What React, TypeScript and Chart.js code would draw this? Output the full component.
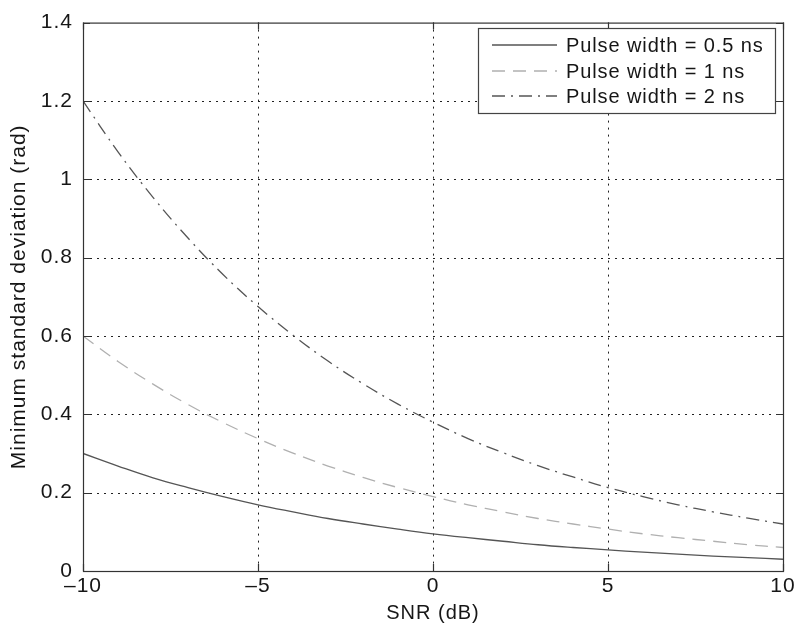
import React, { useEffect, useRef } from "react";
import { Chart, registerables } from "chart.js";

Chart.register(...registerables);

const snrDb = [-10, -9, -8, -7, -6, -5, -4, -3, -2, -1, 0, 1, 2, 3, 4, 5, 6, 7, 8, 9, 10];
const pulse05 = [0.300, 0.268, 0.238, 0.213, 0.190, 0.169, 0.151, 0.134, 0.120, 0.107, 0.095, 0.085, 0.076, 0.067, 0.060, 0.054, 0.048, 0.043, 0.038, 0.034, 0.030];
const pulse1 = [0.600, 0.535, 0.477, 0.425, 0.379, 0.338, 0.301, 0.268, 0.239, 0.213, 0.190, 0.169, 0.151, 0.134, 0.120, 0.107, 0.095, 0.085, 0.076, 0.067, 0.060];
const pulse2 = [1.200, 1.070, 0.954, 0.850, 0.757, 0.675, 0.602, 0.536, 0.478, 0.426, 0.380, 0.338, 0.302, 0.269, 0.240, 0.213, 0.190, 0.169, 0.151, 0.135, 0.120];
const seriesLabels = ["Pulse width = 0.5 ns", "Pulse width = 1 ns", "Pulse width = 2 ns"];
const xTicks = [-10, -5, 0, 5, 10];
const yTicks = [0, 0.2, 0.4, 0.6, 0.8, 1, 1.2, 1.4];

const FONT = "'Liberation Sans', Arial, Helvetica, sans-serif";
const TEXT = "#161616";

const spacingPlugin = {
  id: "spacing",
  beforeInit(chart: any) { (chart.ctx as any).letterSpacing = "1px"; },
  beforeLayout(chart: any) { (chart.ctx as any).letterSpacing = "1px"; },
  beforeDraw(chart: any) { (chart.ctx as any).letterSpacing = "1px"; },
};

const framePlugin = {
  id: "frame",
  beforeDatasetsDraw(chart: any) {
    const { ctx, chartArea: a, scales } = chart;
    ctx.save();
    ctx.strokeStyle = "#222";
    ctx.lineWidth = 1;
    ctx.setLineDash([2, 5]);
    for (const v of xTicks) {
      if (v === -10 || v === 10) continue;
      const x = Math.round(scales.x.getPixelForValue(v)) + 0.5;
      ctx.beginPath();
      ctx.moveTo(x, a.top);
      ctx.lineTo(x, a.bottom);
      ctx.stroke();
    }
    for (const v of yTicks) {
      if (v === 0 || v === 1.4) continue;
      const y = Math.round(scales.y.getPixelForValue(v)) + 0.5;
      ctx.beginPath();
      ctx.moveTo(a.left, y);
      ctx.lineTo(a.right, y);
      ctx.stroke();
    }
    ctx.restore();
  },
  afterDraw(chart: any) {
    const { ctx, chartArea: a, scales } = chart;
    ctx.save();
    ctx.setLineDash([]);
    ctx.strokeStyle = "#333";
    ctx.lineWidth = 1.2;
    ctx.strokeRect(a.left + 0.5, a.top + 0.5, a.right - a.left, a.bottom - a.top);
    const tl = 7;
    ctx.beginPath();
    for (const v of xTicks) {
      const x = Math.round(scales.x.getPixelForValue(v)) + 0.5;
      ctx.moveTo(x, a.bottom);
      ctx.lineTo(x, a.bottom - tl);
      ctx.moveTo(x, a.top);
      ctx.lineTo(x, a.top + tl);
    }
    for (const v of yTicks) {
      const y = Math.round(scales.y.getPixelForValue(v)) + 0.5;
      ctx.moveTo(a.left, y);
      ctx.lineTo(a.left + tl, y);
      ctx.moveTo(a.right, y);
      ctx.lineTo(a.right - tl, y);
    }
    ctx.stroke();

    // legend box
    const bx = 478, by = 28, bw = 297, bh = 85;
    ctx.fillStyle = "#fff";
    ctx.fillRect(bx, by, bw, bh);
    ctx.strokeStyle = "#444";
    ctx.lineWidth = 1.2;
    ctx.strokeRect(bx + 0.5, by + 0.5, bw, bh);
    const rows = [45, 71, 96];
    chart.data.datasets.forEach((ds: any, i: number) => {
      const y = rows[i];
      ctx.save();
      ctx.strokeStyle = ds.borderColor;
      ctx.lineWidth = ds.borderWidth;
      ctx.setLineDash(ds.borderDash || []);
      ctx.beginPath();
      ctx.moveTo(492, y);
      ctx.lineTo(557, y);
      ctx.stroke();
      ctx.restore();
      ctx.fillStyle = TEXT;
      ctx.font = `20px ${FONT}`;
      (ctx as any).letterSpacing = "0.9px";
      ctx.textBaseline = "middle";
      ctx.textAlign = "left";
      ctx.fillText(ds.label, 566, y + 1);
    });
    ctx.restore();
  },
};

export default function App() {
  const ref = useRef<HTMLCanvasElement>(null);
  useEffect(() => {
    if (!ref.current) return;
    const chart = new Chart(ref.current, {
      type: "line",
      data: {
        labels: snrDb,
        datasets: [
          {
            label: seriesLabels[0],
            data: snrDb.map((x, i) => ({ x, y: pulse05[i] })),
            borderColor: "#555",
            borderWidth: 1.3,
            pointRadius: 0,
            tension: 0.4,
            fill: false,
          },
          {
            label: seriesLabels[1],
            data: snrDb.map((x, i) => ({ x, y: pulse1[i] })),
            borderColor: "#b0b0b0",
            borderWidth: 1.3,
            borderDash: [13, 8],
            pointRadius: 0,
            tension: 0.4,
            fill: false,
          },
          {
            label: seriesLabels[2],
            data: snrDb.map((x, i) => ({ x, y: pulse2[i] })),
            borderColor: "#555",
            borderWidth: 1.3,
            borderDash: [13, 6, 2, 6],
            pointRadius: 0,
            tension: 0.4,
            fill: false,
          },
        ],
      },
      options: {
        responsive: false,
        animation: false,
        layout: { padding: { top: 18, right: 18, left: 0, bottom: 0 } },
        plugins: { legend: { display: false }, tooltip: { enabled: false } },
        scales: {
          x: {
            type: "linear",
            min: -10,
            max: 10,
            afterFit: (s: any) => { s.height = 57; },
            afterBuildTicks: (s: any) => { s.ticks = xTicks.map((v) => ({ value: v })); },
            grid: { display: false, drawTicks: false },
            border: { display: false },
            ticks: {
              color: TEXT,
              font: { family: FONT, size: 21 },
              padding: 3,
              maxRotation: 0,
              callback: (v: any) => (Number(v) < 0 ? "\u2013" + Math.abs(Number(v)) : String(v)),
            },
            title: {
              display: true,
              text: "SNR (dB)",
              color: TEXT,
              font: { family: FONT, size: 20 },
              padding: { top: 0, bottom: 3 },
            },
          },
          y: {
            type: "linear",
            min: 0,
            max: 1.4,
            afterFit: (s: any) => { s.width = 83; },
            afterBuildTicks: (s: any) => { s.ticks = yTicks.map((v) => ({ value: v })); },
            grid: { display: false, drawTicks: false },
            border: { display: false },
            ticks: {
              color: TEXT,
              font: { family: FONT, size: 21 },
              padding: 10,
              callback: (v: any) => String(Math.round(Number(v) * 10) / 10),
            },
            title: {
              display: true,
              text: "Minimum standard deviation (rad)",
              color: TEXT,
              font: { family: FONT, size: 21 },
              padding: { top: 7, bottom: 0 },
            },
          },
        },
      },
      plugins: [spacingPlugin, framePlugin],
    });
    return () => chart.destroy();
  }, []);
  return (
    <div style={{ position: "absolute", left: 0, top: 0, width: 801, height: 628, background: "#fff" }}>
      <canvas ref={ref} width={801} height={628} style={{ display: "block" }} />
    </div>
  );
}
